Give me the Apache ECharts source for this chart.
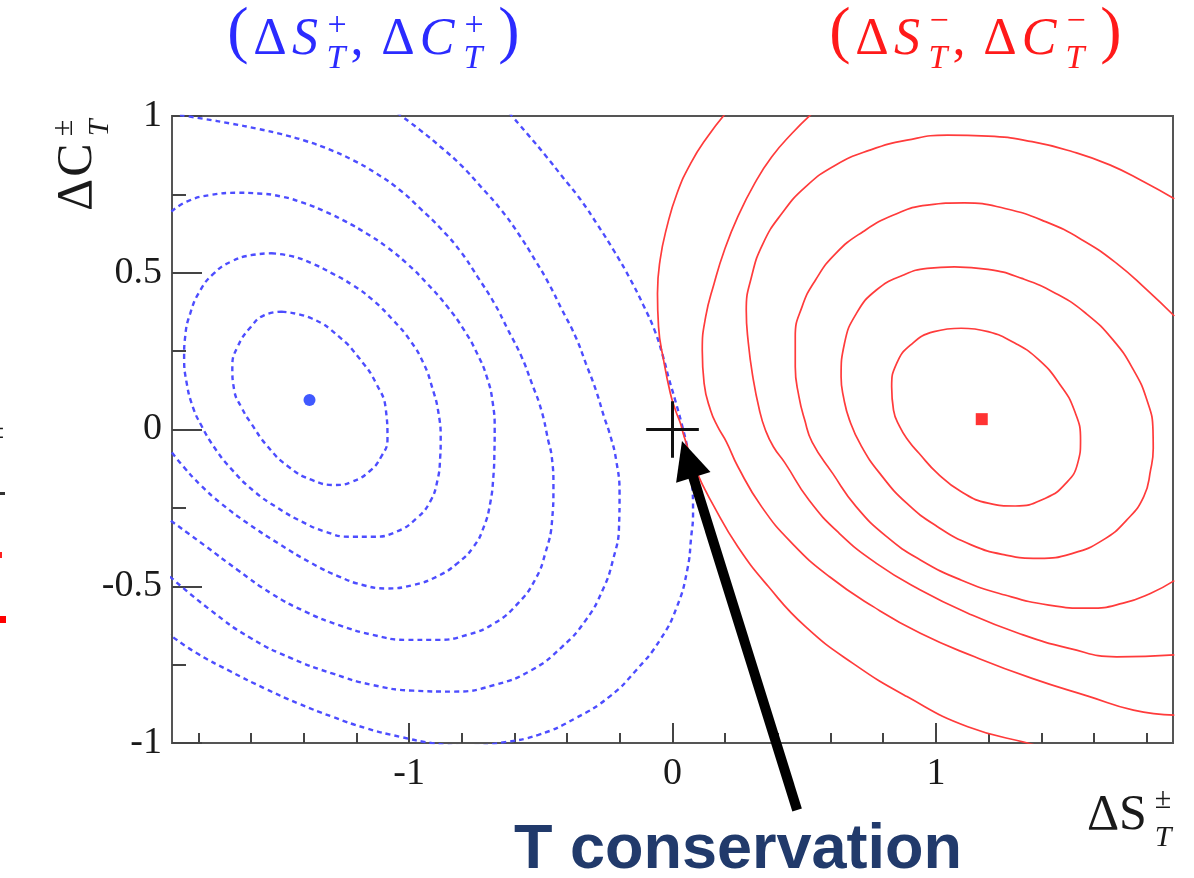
<!DOCTYPE html>
<html>
<head>
<meta charset="utf-8">
<script src="https://cdn.jsdelivr.net/npm/echarts@6.0.0/dist/echarts.min.js"></script>
<style>
  html, body { margin: 0; padding: 0; background: #ffffff; }
  #chart { width: 1194px; height: 878px; }
</style>
</head>
<body>
<div id="chart"></div>
<script>
// ---- axis ticks ----
const xMajorTicks = [-1, 0, 1];
const xMinorTicks = [-1.8, -1.6, -1.4, -1.2, -0.8, -0.6, -0.4, -0.2, 0.2, 0.4, 0.6, 0.8, 1.2, 1.4, 1.6, 1.8];

// ---- best-fit points and the T-conserving point ----
const bestPlus = [[-1.378, 0.094]];   // (ΔS_T^+, ΔC_T^+)
const bestMinus = [[1.174, 0.033]];   // (ΔS_T^-, ΔC_T^-)
const tConservation = [0, 0];

// ---- likelihood contours for (ΔS_T^+, ΔC_T^+), inner to outer ----
const blueC1 = [[-1.484,0.376],[-1.369,0.354],[-1.266,0.296],[-1.189,0.227],[-1.125,0.147],[-1.088,0.062],[-1.082,-0.030],[-1.106,-0.087],[-1.151,-0.134],[-1.215,-0.166],[-1.279,-0.177],[-1.369,-0.161],[-1.459,-0.118],[-1.536,-0.055],[-1.600,0.020],[-1.636,0.070],[-1.664,0.126],[-1.671,0.200],[-1.651,0.264],[-1.600,0.328],[-1.549,0.365],[-1.484,0.376]];
const blueC2 = [[-1.523,0.562],[-1.446,0.553],[-1.369,0.530],[-1.292,0.498],[-1.215,0.461],[-1.138,0.413],[-1.061,0.349],[-0.997,0.285],[-0.945,0.211],[-0.913,0.136],[-0.888,0.051],[-0.880,-0.034],[-0.882,-0.090],[-0.892,-0.161],[-0.920,-0.230],[-0.971,-0.283],[-1.048,-0.326],[-1.138,-0.342],[-1.228,-0.342],[-1.318,-0.326],[-1.407,-0.294],[-1.497,-0.251],[-1.587,-0.198],[-1.677,-0.124],[-1.741,-0.055],[-1.790,0.015],[-1.820,0.070],[-1.844,0.147],[-1.854,0.232],[-1.850,0.296],[-1.831,0.370],[-1.792,0.445],[-1.741,0.498],[-1.677,0.535],[-1.600,0.556],[-1.523,0.562]];
const blueC3 = [[-1.902,0.695],[-1.844,0.727],[-1.754,0.748],[-1.651,0.755],[-1.574,0.753],[-1.484,0.743],[-1.395,0.721],[-1.318,0.695],[-1.240,0.663],[-1.163,0.626],[-1.086,0.583],[-1.009,0.530],[-0.932,0.466],[-0.855,0.392],[-0.791,0.317],[-0.742,0.243],[-0.705,0.168],[-0.682,0.083],[-0.675,-0.002],[-0.676,-0.070],[-0.680,-0.150],[-0.692,-0.235],[-0.716,-0.310],[-0.755,-0.374],[-0.817,-0.427],[-0.894,-0.469],[-0.984,-0.496],[-1.086,-0.507],[-1.176,-0.496],[-1.266,-0.469],[-1.369,-0.427],[-1.497,-0.363],[-1.613,-0.299],[-1.715,-0.235],[-1.792,-0.177],[-1.857,-0.118],[-1.908,-0.065]];
const blueC4 = [[-1.870,1.003],[-1.780,0.991],[-1.677,0.976],[-1.574,0.959],[-1.484,0.942],[-1.395,0.921],[-1.305,0.894],[-1.215,0.860],[-1.125,0.817],[-1.035,0.764],[-0.958,0.705],[-0.881,0.642],[-0.804,0.567],[-0.740,0.487],[-0.676,0.402],[-0.624,0.317],[-0.573,0.232],[-0.534,0.147],[-0.498,0.062],[-0.472,-0.034],[-0.458,-0.090],[-0.452,-0.182],[-0.457,-0.289],[-0.483,-0.395],[-0.522,-0.480],[-0.586,-0.554],[-0.676,-0.618],[-0.779,-0.655],[-0.894,-0.671],[-1.009,-0.671],[-1.138,-0.655],[-1.266,-0.624],[-1.394,-0.581],[-1.523,-0.523],[-1.651,-0.448],[-1.779,-0.368],[-1.908,-0.289]];
const blueC5 = [[-1.045,1.010],[-0.958,0.955],[-0.881,0.902],[-0.804,0.844],[-0.727,0.774],[-0.650,0.700],[-0.586,0.626],[-0.522,0.541],[-0.470,0.466],[-0.419,0.381],[-0.368,0.296],[-0.329,0.211],[-0.291,0.126],[-0.260,0.041],[-0.236,-0.020],[-0.214,-0.097],[-0.201,-0.204],[-0.203,-0.310],[-0.226,-0.416],[-0.265,-0.512],[-0.329,-0.608],[-0.419,-0.693],[-0.534,-0.767],[-0.676,-0.815],[-0.830,-0.836],[-0.984,-0.833],[-1.138,-0.815],[-1.292,-0.778],[-1.446,-0.730],[-1.600,-0.666],[-1.754,-0.576],[-1.908,-0.469]];
const blueC6 = [[-0.620,1.010],[-0.547,0.939],[-0.483,0.875],[-0.413,0.801],[-0.348,0.732],[-0.284,0.652],[-0.220,0.567],[-0.162,0.482],[-0.111,0.397],[-0.066,0.312],[-0.034,0.227],[-0.013,0.160],[0.010,0.094],[0.041,-0.002],[0.060,-0.076],[0.073,-0.161],[0.078,-0.267],[0.071,-0.342],[0.056,-0.448],[0.017,-0.565],[-0.047,-0.671],[-0.137,-0.767],[-0.239,-0.852],[-0.368,-0.921],[-0.509,-0.974],[-0.650,-0.999],[-0.778,-1.010],[-0.907,-1.001],[-1.035,-0.980],[-1.163,-0.953],[-1.292,-0.916],[-1.420,-0.874],[-1.548,-0.826],[-1.677,-0.772],[-1.805,-0.714],[-1.908,-0.655]];

// ---- likelihood contours for (ΔS_T^-, ΔC_T^-), inner to outer ----
const redC1 = [[1.096,0.323],[1.198,0.312],[1.301,0.275],[1.391,0.222],[1.468,0.147],[1.525,0.062],[1.549,-0.034],[1.538,-0.108],[1.493,-0.172],[1.416,-0.219],[1.301,-0.244],[1.198,-0.235],[1.095,-0.198],[1.006,-0.140],[0.935,-0.075],[0.895,-0.035],[0.862,0.010],[0.839,0.062],[0.832,0.136],[0.851,0.211],[0.903,0.269],[0.993,0.312],[1.096,0.323]];
const redC2 = [[1.070,0.519],[1.198,0.511],[1.326,0.482],[1.455,0.434],[1.570,0.370],[1.673,0.285],[1.750,0.190],[1.801,0.094],[1.824,-0.002],[1.825,-0.060],[1.815,-0.129],[1.789,-0.214],[1.724,-0.289],[1.635,-0.352],[1.519,-0.395],[1.391,-0.411],[1.262,-0.400],[1.134,-0.368],[1.006,-0.310],[0.890,-0.236],[0.787,-0.140],[0.715,-0.050],[0.672,0.030],[0.650,0.100],[0.640,0.168],[0.653,0.275],[0.698,0.370],[0.774,0.445],[0.877,0.493],[0.967,0.514],[1.070,0.519]];
const redC3 = [[1.905,0.362],[1.801,0.445],[1.686,0.530],[1.557,0.604],[1.416,0.663],[1.262,0.705],[1.108,0.723],[0.967,0.716],[0.839,0.684],[0.723,0.631],[0.620,0.562],[0.543,0.477],[0.492,0.392],[0.466,0.296],[0.466,0.200],[0.480,0.105],[0.502,0.030],[0.530,-0.040],[0.608,-0.140],[0.697,-0.246],[0.813,-0.342],[0.941,-0.416],[1.095,-0.480],[1.262,-0.528],[1.429,-0.560],[1.583,-0.570],[1.711,-0.554],[1.814,-0.523],[1.905,-0.482]];
const redC4 = [[1.905,0.736],[1.789,0.790],[1.660,0.844],[1.519,0.886],[1.365,0.918],[1.198,0.936],[1.044,0.939],[0.890,0.923],[0.749,0.891],[0.620,0.844],[0.505,0.774],[0.415,0.689],[0.344,0.594],[0.300,0.487],[0.280,0.381],[0.288,0.275],[0.305,0.168],[0.330,0.062],[0.352,0.000],[0.383,-0.055],[0.428,-0.108],[0.518,-0.225],[0.633,-0.331],[0.774,-0.427],[0.941,-0.512],[1.121,-0.586],[1.313,-0.650],[1.506,-0.698],[1.686,-0.725],[1.905,-0.719]];
const redC5 = [[0.535,1.012],[0.454,0.945],[0.377,0.870],[0.312,0.785],[0.248,0.679],[0.197,0.572],[0.158,0.466],[0.126,0.360],[0.113,0.253],[0.120,0.147],[0.145,0.060],[0.171,0.010],[0.205,-0.040],[0.248,-0.118],[0.338,-0.246],[0.454,-0.363],[0.595,-0.469],[0.762,-0.565],[0.941,-0.650],[1.147,-0.725],[1.365,-0.794],[1.583,-0.852],[1.750,-0.895],[1.905,-0.911]];
const redC6 = [[0.205,1.012],[0.133,0.934],[0.069,0.849],[0.017,0.753],[-0.021,0.647],[-0.047,0.541],[-0.057,0.434],[-0.053,0.328],[-0.034,0.222],[-0.008,0.115],[0.012,0.060],[0.030,0.020],[0.045,-0.025],[0.088,-0.129],[0.158,-0.246],[0.248,-0.374],[0.364,-0.501],[0.505,-0.629],[0.685,-0.746],[0.890,-0.852],[1.121,-0.948],[1.378,-1.007],[1.420,-1.020]];

const blueContours = [blueC1, blueC2, blueC3, blueC4, blueC5, blueC6];
const redContours = [redC1, redC2, redC3, redC4, redC5, redC6];

// arrow from the caption up to the T-conserving point
const arrowTip = [0.036, -0.037];
const arrowTail = [0.473, -1.214];

const SERIF = '"Liberation Serif", "Times New Roman", serif';
const SANS = '"Liberation Sans", Arial, sans-serif';
const BLUE = '#2b2bff';
const RED = '#ff1a1a';
const INK = '#1a1a1a';

const chart = echarts.init(document.getElementById('chart'), null, { renderer: 'canvas' });

function contourSeries(list, lineStyle) {
  return list.map(d => ({
    type: 'line', data: d, smooth: 0.5, symbol: 'none', showSymbol: false,
    clip: true, silent: true, z: 2, lineStyle
  }));
}

const crossHalfX = 0.1, crossHalfY = 0.09;

const series = [
  ...contourSeries(blueContours, { color: '#4d4dff', width: 2.4, type: [5, 4] }),
  ...contourSeries(redContours, { color: '#ff3b3b', width: 1.7, type: 'solid' }),
  {
    type: 'line', silent: true, symbol: 'none', z: 5,
    data: [[tConservation[0] - crossHalfX, tConservation[1]], [tConservation[0] + crossHalfX, tConservation[1]]],
    lineStyle: { color: '#111', width: 3 }
  },
  {
    type: 'line', silent: true, symbol: 'none', z: 5,
    data: [[tConservation[0], tConservation[1] - crossHalfY], [tConservation[0], tConservation[1] + crossHalfY]],
    lineStyle: { color: '#111', width: 3 }
  },
  {
    type: 'scatter', data: bestPlus, symbol: 'circle', symbolSize: 12, z: 6,
    itemStyle: { color: '#1030ff' }, silent: true
  },
  {
    type: 'scatter', data: bestMinus, symbol: 'rect', symbolSize: 12, z: 6,
    itemStyle: { color: '#ff0000' }, silent: true
  }
];

chart.setOption({
  animation: false,
  backgroundColor: '#ffffff',
  grid: {
    left: 172, right: 21, top: 116, bottom: 135,
    show: true, borderColor: '#555', borderWidth: 2, backgroundColor: '#ffffff'
  },
  xAxis: [
    {
      type: 'value', min: -1.9, max: 1.9, position: 'bottom',
      axisLine: { show: false, onZero: false }, splitLine: { show: false },
      axisTick: { show: true, inside: true, length: 20, customValues: xMajorTicks, lineStyle: { color: '#444', width: 2 } },
      axisLabel: { show: true, customValues: xMajorTicks, margin: 12, color: INK, fontFamily: SERIF, fontSize: 38 }
    },
    {
      type: 'value', min: -1.9, max: 1.9, position: 'bottom',
      axisLine: { show: false, onZero: false }, splitLine: { show: false },
      axisTick: { show: true, inside: true, length: 10, customValues: xMinorTicks, lineStyle: { color: '#444', width: 2 } },
      axisLabel: { show: false }
    }
  ],
  yAxis: {
    type: 'value', min: -1, max: 1, interval: 0.5, position: 'left',
    axisLine: { show: false, onZero: false }, splitLine: { show: false },
    axisTick: { show: true, inside: true, length: 30, lineStyle: { color: '#444', width: 2 } },
    minorTick: { show: true, splitNumber: 2, length: 14, lineStyle: { color: '#444', width: 2 } },
    axisLabel: { margin: 10, color: INK, fontFamily: SERIF, fontSize: 38 }
  },
  series
});

// ---- text glyph helpers for the math labels ----
function glyph(text, x, y, size, color, italic) {
  return {
    type: 'text', x, y, silent: true, z: 100,
    style: {
      text, fill: color,
      font: (italic ? 'italic ' : '') + size + 'px ' + SERIF,
      textAlign: 'center', textVerticalAlign: 'middle'
    }
  };
}

// (ΔS_T^s, ΔC_T^s) with the sign s stacked over the subscript T
function pairTitle(dx, sign, color) {
  const up = sign === '+' ? 26 : 22;
  const g = [
    ['(', 238, 34, 64, false],
    ['Δ', 270, 40, 52, false],
    ['S', 305, 40, 52, true],
    [sign, 337, up, 34, false],
    ['T', 336, 59, 34, true],
    [',', 357, 40, 52, false],
    ['Δ', 398, 40, 52, false],
    ['C', 437, 40, 52, true],
    [sign, 474, up, 34, false],
    ['T', 473, 59, 34, true],
    [')', 509, 34, 64, false]
  ];
  return g.map(([t, x, y, s, it]) => glyph(t, x + dx, y, s, color, it));
}

const graphics = [];
graphics.push(...pairTitle(0, '+', BLUE));
graphics.push(...pairTitle(602, '\u2212', RED));

// x-axis title ΔS_T^±
graphics.push(
  glyph('Δ', 1103, 816, 50, INK, false),
  glyph('S', 1133, 816, 50, INK, false),
  glyph('±', 1163, 800, 30, INK, false),
  glyph('T', 1163, 838, 30, INK, true)
);

// y-axis title ΔC_T^±, reading bottom to top
graphics.push({
  type: 'group', x: 78, y: 168, rotation: Math.PI / 2, silent: true, z: 100,
  children: [
    glyph('Δ', -27, 0, 50, INK, false),
    glyph('C', 8, 0, 50, INK, false),
    glyph('±', 40, -14, 30, INK, false),
    glyph('T', 40, 22, 30, INK, true)
  ]
});

// clipped fragments at the left margin
graphics.push(
  { type: 'text', x: -4, y: 430, silent: true, style: { text: '±', fill: INK, font: '30px ' + SERIF, textAlign: 'center', textVerticalAlign: 'middle' } },
  { type: 'rect', silent: true, shape: { x: 0, y: 492, width: 5, height: 3 }, style: { fill: '#333' } },
  { type: 'rect', silent: true, shape: { x: 0, y: 552, width: 2, height: 6 }, style: { fill: '#ff2020' } },
  { type: 'rect', silent: true, shape: { x: 0, y: 616, width: 6, height: 7 }, style: { fill: '#ff0000' } }
);

// caption
graphics.push({
  type: 'text', x: 738, y: 851, silent: true, z: 100,
  style: { text: 'T conservation', fill: '#213a6b', font: 'bold 63px ' + SANS, textAlign: 'center', textVerticalAlign: 'middle' }
});

// arrow pointing at the T-conserving point
const tip = chart.convertToPixel({ seriesIndex: 0 }, arrowTip);
const tail = chart.convertToPixel({ seriesIndex: 0 }, arrowTail);
const vx = tip[0] - tail[0], vy = tip[1] - tail[1];
const len = Math.hypot(vx, vy);
const ux = vx / len, uy = vy / len, nx = -uy, ny = ux;
const headLen = 38, headHalf = 18;
const bx = tip[0] - ux * headLen, by = tip[1] - uy * headLen;
graphics.push(
  { type: 'line', silent: true, z: 110, shape: { x1: tail[0], y1: tail[1], x2: bx + ux * 2, y2: by + uy * 2 }, style: { stroke: '#000', lineWidth: 10 } },
  { type: 'polygon', silent: true, z: 111, shape: { points: [[tip[0], tip[1]], [bx + nx * headHalf, by + ny * headHalf], [bx - nx * headHalf, by - ny * headHalf]] }, style: { fill: '#000' } }
);

chart.setOption({ graphic: graphics });
</script>
</body>
</html>
